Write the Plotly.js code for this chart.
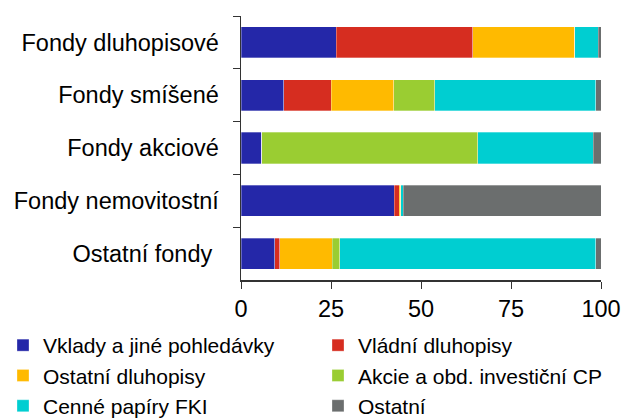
<!DOCTYPE html>
<html>
<head>
<meta charset="utf-8">
<script src="https://cdn.plot.ly/plotly-3.0.1.min.js"></script>
<style>html, body { margin: 0; padding: 0; background: #fff; }</style>
</head>
<body>
<div id="chart" style="width:637px;height:419px"></div>
<script>
var funds = ["Fondy dluhopisové", "Fondy smíšené", "Fondy akciové", "Fondy nemovitostní", "Ostatní fondy\u00a0"];
var seriesNames = ["Vklady a jiné pohledávky", "Vládní dluhopisy", "Ostatní dluhopisy",
  "Akcie a obd. investiční CP", "Cenné papíry FKI", "Ostatní"];
var vklady = [26.4, 11.9, 5.8, 42.5, 9.4];
var vladni = [38.0, 13.2, 0, 1.4, 1.4];
var ostatniDluhopisy = [28.3, 17.3, 0, 0.5, 14.5];
var akcie = [0, 11.4, 59.9, 0, 2.1];
var cennePapiry = [6.5, 44.7, 32.2, 0.6, 71.1];
var ostatni = [0.8, 1.5, 2.1, 55.0, 1.5];
var xTicks = [0, 25, 50, 75, 100];

var seriesValues = [vklady, vladni, ostatniDluhopisy, akcie, cennePapiry, ostatni];
var barColors = ["#2427a8", "#d62d20", "#ffba00", "#9acd32", "#00ced1", "#6b6e6e"];

// two legend columns: even series on the left, odd ones on the right
var data = [];
for (let i = 0; i < seriesNames.length; ++i) {
  data.push({
    type: "bar",
    orientation: "h",
    name: seriesNames[i],
    y: funds,
    x: seriesValues[i],
    legend: i % 2 === 0 ? "legend" : "legend2",
    marker: { color: barColors[i], line: { width: 0.6, color: "rgba(255,255,255,0.5)" } },
    hoverinfo: "skip"
  });
}

var legendBase = {
  orientation: "v",
  xref: "container",
  yref: "container",
  xanchor: "left",
  yanchor: "top",
  y: 1 - 325 / 419,
  traceorder: "normal",
  bgcolor: "rgba(0,0,0,0)",
  font: { size: 21 }
};

var layout = {
  width: 637,
  height: 419,
  margin: { l: 241, r: 36, t: 16, b: 139, autoexpand: false },
  barmode: "stack",
  bargap: 0.41,
  font: { family: "Liberation Sans, Arial, sans-serif", size: 23.5, color: "#000" },
  paper_bgcolor: "#fff",
  plot_bgcolor: "#fff",
  showlegend: true,
  legend: Object.assign({}, legendBase, { x: 3 / 637 }),
  legend2: Object.assign({}, legendBase, { x: 318 / 637 }),
  xaxis: {
    range: [0, 100],
    tickvals: xTicks,
    ticks: "outside",
    ticklen: 7,
    tickcolor: "#333",
    showline: true,
    linecolor: "#333",
    linewidth: 1.5,
    showgrid: false,
    zeroline: false,
    fixedrange: true
  },
  yaxis: {
    type: "category",
    autorange: "reversed",
    ticks: "outside",
    tickson: "boundaries",
    ticklen: 7,
    tickcolor: "#333",
    ticklabelstandoff: 16,
    showline: true,
    linecolor: "#333",
    linewidth: 1.5,
    showgrid: false,
    zeroline: false,
    fixedrange: true
  }
};

Plotly.newPlot("chart", data, layout, { staticPlot: true });
</script>
</body>
</html>
